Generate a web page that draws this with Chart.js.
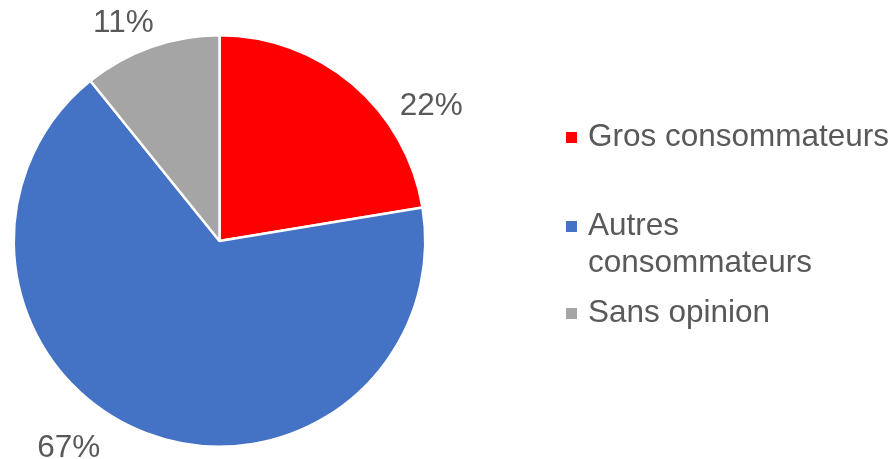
<!DOCTYPE html>
<html>
<head>
<meta charset="utf-8">
<script src="https://cdn.jsdelivr.net/npm/chart.js@4/dist/chart.umd.min.js"></script>
<style>
  html, body { margin: 0; padding: 0; background: #ffffff; }
  #wrap { position: relative; width: 894px; height: 459px; overflow: hidden; }
  #c { position: absolute; left: 0; top: 0; }
  .leg { position: absolute; left: 566px; width: 330px; font-family: "Liberation Sans", Arial, sans-serif;
         font-size: 31.5px; line-height: 37px; color: #595959; }
  .leg .mk { position: absolute; left: 0; top: 15px; width: 11px; height: 11px; }
  .leg .tx { position: absolute; left: 22px; top: 0; width: 306px; white-space: normal; }
</style>
</head>
<body>
<div id="wrap">
  <canvas id="c" width="894" height="459"></canvas>
</div>
<script>
const categories = ['Gros consommateurs', 'Autres consommateurs', 'Sans opinion'];
const shares = [22.4, 66.8, 10.8];
const sliceColors = ['#FF0000', '#4472C4', '#A5A5A5'];

// label placement: angle (deg, clockwise from top) and distance relative to radius
const labelPlacement = [
  { angle: 57.1, dist: 1.226 },
  { angle: 216.3, dist: 1.237 },
  { angle: -23.6, dist: 1.166 }
];
const legendTops = [117, 206, 293];

const labelPlugin = {
  id: 'outLabels',
  afterDatasetsDraw(chart) {
    const ctx = chart.ctx;
    const meta = chart.getDatasetMeta(0);
    const data = chart.data.datasets[0].data;
    ctx.save();
    ctx.font = '31.5px "Liberation Sans", Arial, sans-serif';
    ctx.fillStyle = '#595959';
    ctx.textAlign = 'center';
    ctx.textBaseline = 'alphabetic';
    meta.data.forEach((arc, i) => {
      const p = labelPlacement[i];
      const a = p.angle * Math.PI / 180;
      const r = arc.outerRadius * p.dist;
      const x = arc.x + Math.sin(a) * r;
      const y = arc.y - Math.cos(a) * r;
      ctx.fillText(Math.round(data[i]) + '%', x, y + 11);
    });
    ctx.restore();
  }
};

new Chart(document.getElementById('c'), {
  type: 'pie',
  data: {
    labels: categories,
    datasets: [{
      data: shares,
      backgroundColor: sliceColors,
      borderColor: '#ffffff',
      borderWidth: 2.5
    }]
  },
  options: {
    responsive: false,
    animation: false,
    layout: { padding: { left: 12, right: 467, top: 34, bottom: 11 } },
    plugins: { legend: { display: false }, tooltip: { enabled: false } }
  },
  plugins: [labelPlugin]
});

const wrap = document.getElementById('wrap');
categories.forEach((name, i) => {
  const item = document.createElement('div');
  item.className = 'leg';
  item.style.top = legendTops[i] + 'px';
  const mk = document.createElement('div');
  mk.className = 'mk';
  mk.style.background = sliceColors[i];
  const tx = document.createElement('div');
  tx.className = 'tx';
  tx.textContent = name;
  item.appendChild(mk);
  item.appendChild(tx);
  wrap.appendChild(item);
});
</script>
</body>
</html>
